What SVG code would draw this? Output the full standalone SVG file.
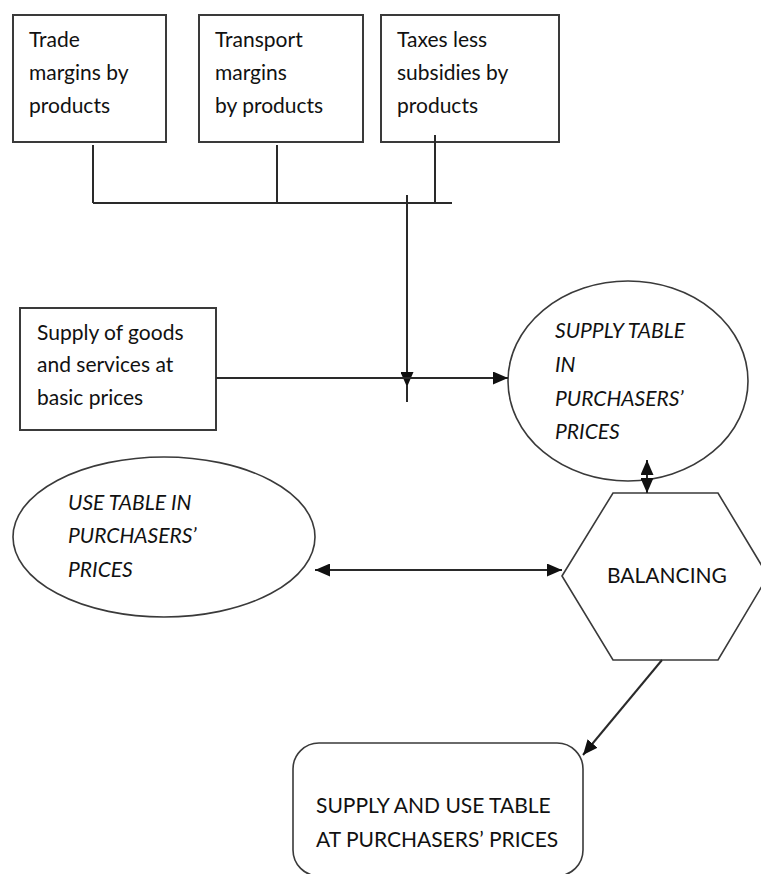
<svg xmlns="http://www.w3.org/2000/svg" width="761" height="874" viewBox="0 0 761 874">
<style>
.box{fill:#fff;stroke:#3a3a3a;stroke-width:2}
.shape{fill:#fff;stroke:#3a3a3a;stroke-width:1.6}
.ln{fill:none;stroke:#2a2a2a;stroke-width:2}
.t{font-family:Lato,"Open Sans",sans-serif;font-size:21px;fill:#111}
.i{font-style:italic}
</style>
<defs>
<marker id="ah" viewBox="0 0 15 13" refX="15" refY="6.5" markerWidth="15" markerHeight="13" markerUnits="userSpaceOnUse" orient="auto-start-reverse">
<path d="M0,0 L15,6.5 L0,13 Z" fill="#111"/>
</marker>
</defs>
<rect x="0" y="0" width="761" height="874" fill="#fff"/>
<g id="trade">
<rect class="box" x="13" y="15" width="153" height="127"/>
<text class="t" x="29" y="47">Trade</text>
<text class="t" x="29" y="80">margins by</text>
<text class="t" x="29" y="113">products</text>
</g>
<g id="transport">
<rect class="box" x="199" y="15" width="164" height="127"/>
<text class="t" x="215" y="47">Transport</text>
<text class="t" x="215" y="80">margins</text>
<text class="t" x="215" y="113">by products</text>
</g>
<g id="taxes">
<rect class="box" x="381" y="15" width="178" height="127"/>
<text class="t" x="397" y="47">Taxes less</text>
<text class="t" x="397" y="80">subsidies by</text>
<text class="t" x="397" y="113">products</text>
</g>
<g id="supply">
<rect class="box" x="20" y="308" width="196" height="122"/>
<text class="t" x="37" y="340">Supply of goods</text>
<text class="t" x="37" y="372">and services at</text>
<text class="t" x="37" y="405">basic prices</text>
</g>
<g id="supply-table">
<ellipse class="shape" cx="628" cy="381" rx="120" ry="100"/>
<text class="t i" x="555" y="338">SUPPLY TABLE</text>
<text class="t i" x="555" y="372">IN</text>
<text class="t i" x="555" y="406">PURCHASERS’</text>
<text class="t i" x="555" y="439">PRICES</text>
</g>
<g id="use-table">
<ellipse class="shape" cx="164" cy="537" rx="151" ry="80"/>
<text class="t i" x="68" y="510">USE TABLE IN</text>
<text class="t i" x="68" y="543">PURCHASERS’</text>
<text class="t i" x="68" y="577">PRICES</text>
</g>
<g id="balancing">
<polygon class="shape" points="562,576 613,493 718,493 768,576 718,660 613,660"/>
<text class="t" x="607" y="583">BALANCING</text>
</g>
<g id="result">
<rect class="shape" x="293" y="743" width="290" height="133" rx="26" ry="26"/>
<text class="t" x="316" y="813">SUPPLY AND USE TABLE</text>
<text class="t" x="316" y="847">AT PURCHASERS’ PRICES</text>
</g>
<g id="connectors">
<path class="ln" d="M93,145 V203 M277,145 V203 M435,135 V203 M93,203 H452"/>
<path class="ln" d="M407,195 V387" marker-end="url(#ah)"/>
<path class="ln" d="M407,385 V402"/>
<path class="ln" d="M216,378 H508" marker-end="url(#ah)"/>
<path class="ln" d="M315,570 H562" marker-start="url(#ah)" marker-end="url(#ah)"/>
<path class="ln" d="M647,460 V493" marker-start="url(#ah)" marker-end="url(#ah)"/>
<path class="ln" d="M662,660 L583,755" marker-end="url(#ah)"/>
</g>
</svg>
